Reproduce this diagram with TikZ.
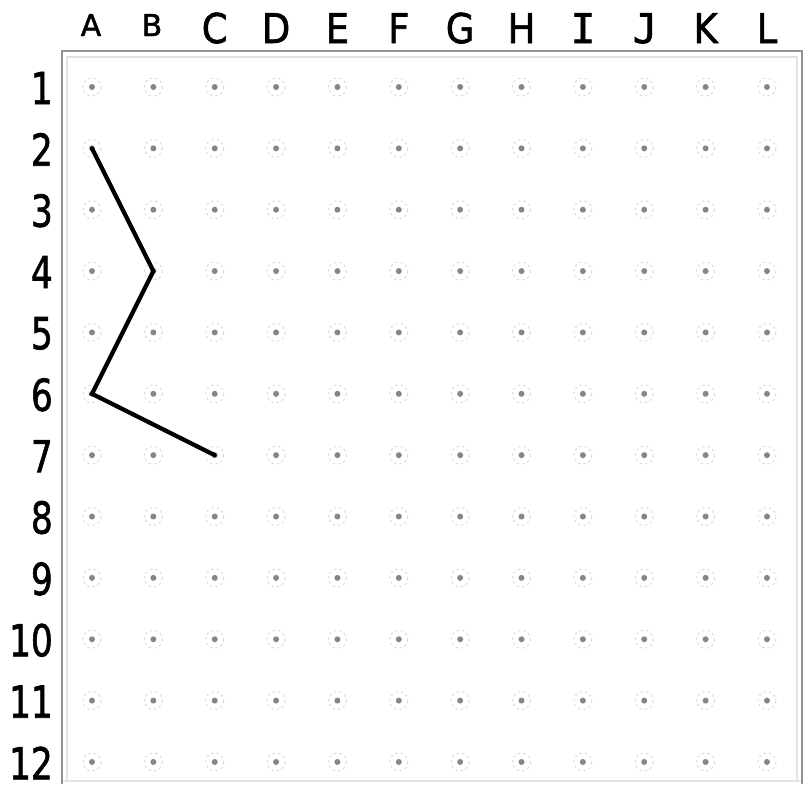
\documentclass[tikz,border=0pt]{standalone}
\usepackage{fontspec}
\setmainfont{DejaVu Sans}[FakeBold=1.6]
\newfontfamily\monolbl{DejaVu Sans Mono}[FakeBold=1.6]
\begin{document}
\begin{tikzpicture}[x=1pt,y=-1pt,
  griddot/.style={circle,fill=gray!95,inner sep=0pt,minimum size=6pt},
  halo/.style={draw=gray!30,line width=0.9pt,dash pattern=on 2.5pt off 3pt},
  biglabel/.style={font=\fontsize{41}{41}\selectfont,anchor=base,inner sep=0pt},
  smalllabel/.style={font=\fontsize{30}{30}\selectfont,anchor=base,inner sep=0pt},
  rowlabel/.style={font=\fontsize{44}{44}\selectfont,anchor=east,inner sep=0pt},
  frameline/.style={draw=gray!85,line width=2.8pt},
  pathline/.style={draw=black,line width=4.2pt,line join=miter,line cap=round}]
\useasboundingbox (0,0) rectangle (808,790);
% frame
\draw[gray!22,line width=1.4pt] (67,782) -- (67,57) -- (797,57) -- (797,782);
\draw[gray!22,line width=1.4pt] (62,781) -- (802,781);
\draw[frameline] (62,784) -- (62,51) -- (802,51) -- (802,784);
% grid dots
\foreach \c [count=\i from 0] in {A,B,C,D,E,F,G,H,I,J,K,L} {
  \foreach \r in {1,...,12} {
    \pgfmathsetmacro\xx{92+61.36*\i}
    \pgfmathsetmacro\yy{87+61.36*(\r-1)}
    \draw[halo] (\xx,\yy) circle (9);
    \node[griddot] (d\c\r) at (\xx,\yy) {};
  }
}
% column labels
\node[smalllabel] (cA) at (91,36) {A};
\node[smalllabel] (cB) at (152,36) {B};
\foreach \c/\i in {C/2,D/3,E/4,F/5,G/6,H/7,K/10,L/11} {
  \pgfmathsetmacro\xx{92+61.36*\i}
  \node[biglabel] (c\c) at (\xx,43) {\scalebox{0.9}[1]{\c}};
}
\node[biglabel] (cI) at (583,43) {\monolbl I};
\node[biglabel] (cJ) at (645,43) {\monolbl J};
% row labels
\foreach \r in {1,...,12} {
  \pgfmathsetmacro\yy{87+61.36*(\r-1)+1}
  \node[rowlabel] (r\r) at (53,\yy) {\scalebox{0.78}[1]{\r}};
}
% path
\draw[pathline] (dA2.center) -- (dB4.center) -- (dA6.center) -- (dC7.center);
\end{tikzpicture}
\end{document}
